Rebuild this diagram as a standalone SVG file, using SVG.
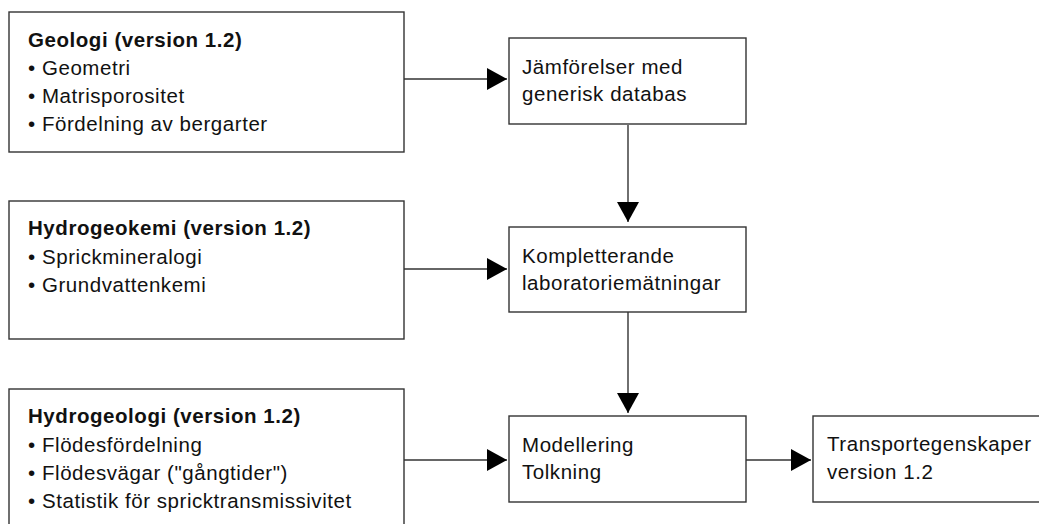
<svg xmlns="http://www.w3.org/2000/svg" width="1039" height="524" viewBox="0 0 1039 524">
  <style>
    .box { fill: #ffffff; stroke: #333333; stroke-width: 1.4; }
    .txt { font-family: "Liberation Sans", Arial, sans-serif; font-size: 20.5px; letter-spacing: 0.55px; fill: #111111; }
    .ttl { font-weight: bold; }
    .conn { fill: none; stroke: #333333; stroke-width: 1.4; marker-end: url(#arrow); }
  </style>
  <defs>
    <marker id="arrow" markerUnits="userSpaceOnUse" markerWidth="20" markerHeight="22" refX="20" refY="11" orient="auto">
      <path d="M0,0 L20,11 L0,22 Z" fill="#000000"/>
    </marker>
  </defs>
  <rect width="1039" height="524" fill="#ffffff"/>

  <g id="connectors">
    <path class="conn" d="M404,79 H507"/>
    <path class="conn" d="M404,269 H507"/>
    <path class="conn" d="M404,460 H507"/>
    <path class="conn" d="M628,125 V222"/>
    <path class="conn" d="M628,312 V413"/>
    <path class="conn" d="M746,460 H811"/>
  </g>

  <g id="geologi">
    <rect class="box" x="9" y="12" width="395" height="140"/>
    <text class="txt ttl" x="28" y="47">Geologi (version 1.2)</text>
    <text class="txt" x="28" y="75">• Geometri</text>
    <text class="txt" x="28" y="103">• Matrisporositet</text>
    <text class="txt" x="28" y="131">• Fördelning av bergarter</text>
  </g>

  <g id="hydrogeokemi">
    <rect class="box" x="9" y="201" width="395" height="138"/>
    <text class="txt ttl" x="28" y="235">Hydrogeokemi (version 1.2)</text>
    <text class="txt" x="28" y="264">• Sprickmineralogi</text>
    <text class="txt" x="28" y="292">• Grundvattenkemi</text>
  </g>

  <g id="hydrogeologi">
    <rect class="box" x="9" y="389" width="395" height="150"/>
    <text class="txt ttl" x="28" y="423">Hydrogeologi (version 1.2)</text>
    <text class="txt" x="28" y="452">• Flödesfördelning</text>
    <text class="txt" x="28" y="480">• Flödesvägar ("gångtider")</text>
    <text class="txt" x="28" y="508">• Statistik för spricktransmissivitet</text>
  </g>

  <g id="jamforelser">
    <rect class="box" x="509" y="38" width="237" height="86"/>
    <text class="txt" x="522" y="74">Jämförelser med</text>
    <text class="txt" x="522" y="101">generisk databas</text>
  </g>

  <g id="kompletterande">
    <rect class="box" x="509" y="227" width="237" height="85"/>
    <text class="txt" x="522" y="263">Kompletterande</text>
    <text class="txt" x="522" y="290">laboratoriemätningar</text>
  </g>

  <g id="modellering">
    <rect class="box" x="509" y="416" width="237" height="86"/>
    <text class="txt" x="522" y="452">Modellering</text>
    <text class="txt" x="522" y="479">Tolkning</text>
  </g>

  <g id="transportegenskaper">
    <rect class="box" x="813" y="416" width="235" height="86"/>
    <text class="txt" x="827" y="451">Transportegenskaper</text>
    <text class="txt" x="827" y="479">version 1.2</text>
  </g>
</svg>
